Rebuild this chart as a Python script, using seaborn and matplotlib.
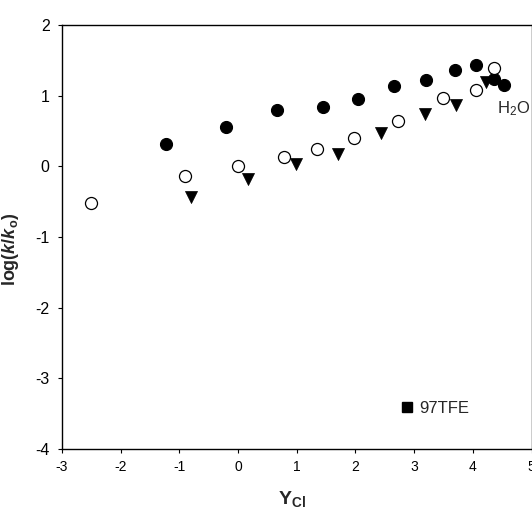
import matplotlib
matplotlib.use("Agg")
import matplotlib.pyplot as plt
from matplotlib.lines import Line2D
import seaborn as sns
import pandas as pd

# Data
filled_x = [-1.22, -0.21, 0.66, 1.44, 2.04, 2.66, 3.21, 3.69, 4.06, 4.36, 4.53]
filled_y = [0.32, 0.56, 0.80, 0.84, 0.95, 1.13, 1.22, 1.36, 1.44, 1.24, 1.15]

open_x = [-2.51, -0.91, 0.00, 0.78, 1.35, 1.98, 2.72, 3.49, 4.05, 4.36]
open_y = [-0.52, -0.13, 0.01, 0.13, 0.25, 0.40, 0.64, 0.96, 1.08, 1.39]

tri_x = [-0.81, 0.17, 0.98, 1.71, 2.43, 3.18, 3.72, 4.22]
tri_y = [-0.43, -0.18, 0.04, 0.17, 0.47, 0.74, 0.87, 1.20]

x_ticks = [-3, -2, -1, 0, 1, 2, 3, 4, 5]
y_ticks = [-4, -3, -2, -1, 0, 1, 2]
legend_label = "97TFE"
water_label = r"H$_{\mathsf{2}}$O"

sns.set_style("ticks")
plt.rcParams["font.family"] = ["Liberation Sans", "DejaVu Sans"]
plt.rcParams["mathtext.fontset"] = "custom"
plt.rcParams["mathtext.rm"] = "Liberation Sans:bold"
plt.rcParams["mathtext.it"] = "Liberation Sans:bold:italic"
plt.rcParams["mathtext.bf"] = "Liberation Sans:bold"
plt.rcParams["mathtext.sf"] = "Liberation Sans"

fig = plt.figure(figsize=(5.32, 5.08), dpi=100)
ax = fig.add_axes([62 / 532, 59 / 508, (531.5 - 62) / 532, (449 - 25) / 508])

df_f = pd.DataFrame({"x": filled_x, "y": filled_y})
df_o = pd.DataFrame({"x": open_x, "y": open_y})
df_t = pd.DataFrame({"x": tri_x, "y": tri_y})

sns.scatterplot(data=df_f, x="x", y="y", ax=ax, marker="o", s=75,
                color="black", edgecolor="black", linewidth=0.8, zorder=3)
sns.scatterplot(data=df_o, x="x", y="y", ax=ax, marker="o", s=75,
                facecolor="white", edgecolor="black", linewidth=0.9, zorder=4)
sns.scatterplot(data=df_t, x="x", y="y", ax=ax, marker="v", s=75,
                color="black", edgecolor="black", linewidth=0.5, zorder=3)

ax.set_xlim(-3, 5)
ax.set_ylim(-4, 2)
ax.set_xticks(x_ticks)
ax.set_yticks(y_ticks)
ax.set_xticklabels([str(t) for t in x_ticks], fontsize=10)
ax.set_yticklabels([str(t) for t in y_ticks], fontsize=11.5)
ax.tick_params(axis="x", direction="out", length=3, width=0.8, pad=5, colors="black")
ax.tick_params(axis="y", direction="out", length=3, width=0.8, pad=6, colors="black")
for sp in ax.spines.values():
    sp.set_linewidth(1.0)
    sp.set_color("black")

ax.set_xlabel(r"$\mathrm{Y}_{\mathrm{Cl}}$", fontsize=14)
ax.xaxis.set_label_coords(0.49, -0.095)
ax.set_ylabel(r"$\mathrm{log(}k/k_{\mathrm{o}}\mathrm{)}$", fontsize=13)
ax.yaxis.set_label_coords(-0.088, 0.47)

ax.text(4.41, 0.82, water_label, fontsize=12, ha="left", va="center")

handle = Line2D([], [], marker="s", linestyle="none", color="black", markersize=7.5)
ax.legend([handle], [legend_label], loc="center left", frameon=False,
          bbox_to_anchor=(0.685, 0.095), fontsize=12, handletextpad=0.25,
          handlelength=1.0)

fig.savefig("out.png", dpi=100, facecolor="white")
